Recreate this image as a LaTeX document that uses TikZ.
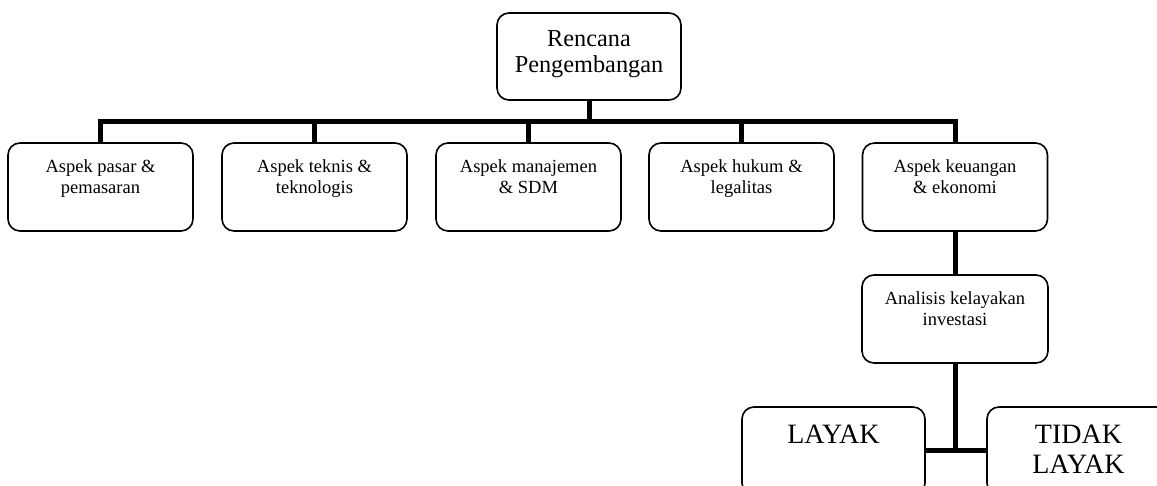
\documentclass[tikz,border=0pt]{standalone}
\usepackage{fontspec}
\setmainfont{Liberation Serif}
\usetikzlibrary{positioning}
\tikzstyle{box}=[draw, rounded corners=12pt, line width=1.6pt, minimum width=185pt, minimum height=88pt, inner sep=0pt]
\tikzstyle{boxtext}=[align=center, inner sep=0pt, font=\fontsize{18.5}{21}\selectfont]
\tikzstyle{bigtext}=[align=center, inner sep=0pt, font=\fontsize{24.3}{26.5}\selectfont]
\tikzstyle{hugetext}=[align=center, inner sep=0pt, font=\fontsize{28}{30}\selectfont]
\tikzstyle{bar}=[line width=5pt]

\begin{document}
\begin{tikzpicture}[x=1pt, y=-1pt]
    \useasboundingbox (0,0) rectangle (1157,486);
    \clip (0,0) rectangle (1157,486);
% Top
    \node[box, minimum width=184pt, minimum height=87pt] (plan) at (589,56.5) {};
    \node[bigtext, below=18pt of plan.north] (plantext) {Rencana\\Pengembangan};
% Aspects
    \node[box] (pasar) at (100.5,187) {};
    \node[box] (teknis) at (314.5,187) {};
    \node[box] (sdm) at (528.5,187) {};
    \node[box] (hukum) at (741.5,187) {};
    \node[box] (keuangan) at (955,187) {};
    \node[boxtext, below=17pt of pasar.north] (pasartext) {Aspek pasar \&\\pemasaran};
    \node[boxtext, below=17pt of teknis.north] (teknistext) {Aspek teknis \&\\teknologis};
    \node[boxtext, below=17pt of sdm.north] (sdmtext) {Aspek manajemen\\\& SDM};
    \node[boxtext, below=17pt of hukum.north] (hukumtext) {Aspek hukum \&\\legalitas};
    \node[boxtext, below=17pt of keuangan.north] (keuangantext) {Aspek keuangan\\\& ekonomi};
% Analysis
    \node[box, minimum width=186pt] (analisis) at (955,319) {};
    \node[boxtext, below=17pt of analisis.north] (analisistext) {Analisis kelayakan\\investasi};
% Results
    \node[box, minimum width=183pt] (layak) at (833.5,451) {};
    \node[box, minimum width=183pt] (tidak) at (1078.5,451) {};
    \node[hugetext, below=19pt of layak.north] (layaktext) {LAYAK};
    \node[hugetext, below=19pt of tidak.north] (tidaktext) {TIDAK\\LAYAK};
% Connectors
    \coordinate (bus) at (589,122);
    \draw[bar] (plan.south) -- (bus);
    \foreach \n in {pasar,teknis,sdm,hukum,keuangan}
        \draw[bar] (\n.north) |- (bus);
    \draw[bar] (keuangan.south) -- (analisis.north);
    \coordinate (split) at (955,450);
    \draw[bar] (analisis.south) -- (split);
    \draw[bar] (layak.east |- split) -- (tidak.west |- split);
\end{tikzpicture}
\end{document}
